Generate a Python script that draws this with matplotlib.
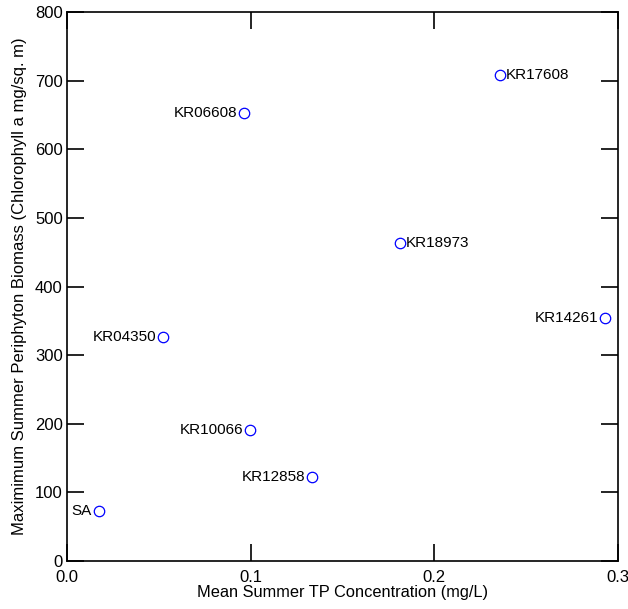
import matplotlib.pyplot as plt

plt.rcParams['font.family'] = ['Liberation Sans', 'DejaVu Sans']

# Data
sites = ['SA', 'KR04350', 'KR06608', 'KR10066', 'KR12858', 'KR18973', 'KR17608', 'KR14261']
tp_conc = [0.0174, 0.0523, 0.0964, 0.0996, 0.1334, 0.1813, 0.2357, 0.2929]
biomass = [73, 326, 653, 191, 122, 463, 708, 354]
label_side = ['left', 'left', 'left', 'left', 'left', 'right', 'right', 'left']

fig = plt.figure(figsize=(6.28, 6.09), dpi=100)
ax = fig.add_axes([0.1067, 0.0788, 0.8773, 0.9015])

ax.plot(tp_conc, biomass, 'o', mfc='none', mec='blue', ms=7.5, mew=0.9)

# site labels next to each point
for x, y, name, side in zip(tp_conc, biomass, sites, label_side):
    if side == 'left':
        ax.annotate(name, (x, y), xytext=(-5, 0), textcoords='offset points',
                    ha='right', va='center', fontsize=11)
    else:
        ax.annotate(name, (x, y), xytext=(4.5, 0), textcoords='offset points',
                    ha='left', va='center', fontsize=11)

ax.set_xlim(0, 0.3)
ax.set_ylim(0, 800)
ax.set_xticks([0.0, 0.1, 0.2, 0.3])
ax.set_xticklabels(['0.0', '0.1', '0.2', '0.3'])
ax.set_yticks(range(0, 801, 100))
ax.tick_params(direction='in', length=12, width=1.2, labelsize=12,
               top=True, right=True)
ax.tick_params(axis='x', pad=6.5)
ax.tick_params(axis='y', pad=3)
for s in ax.spines.values():
    s.set_linewidth(1.2)

ax.set_xlabel('Mean Summer TP Concentration (mg/L)', fontsize=11.8, labelpad=0)
ax.set_ylabel('Maximimum Summer Periphyton Biomass (Chlorophyll a mg/sq. m)', fontsize=12, labelpad=6)

plt.savefig('out.png', dpi=100)
